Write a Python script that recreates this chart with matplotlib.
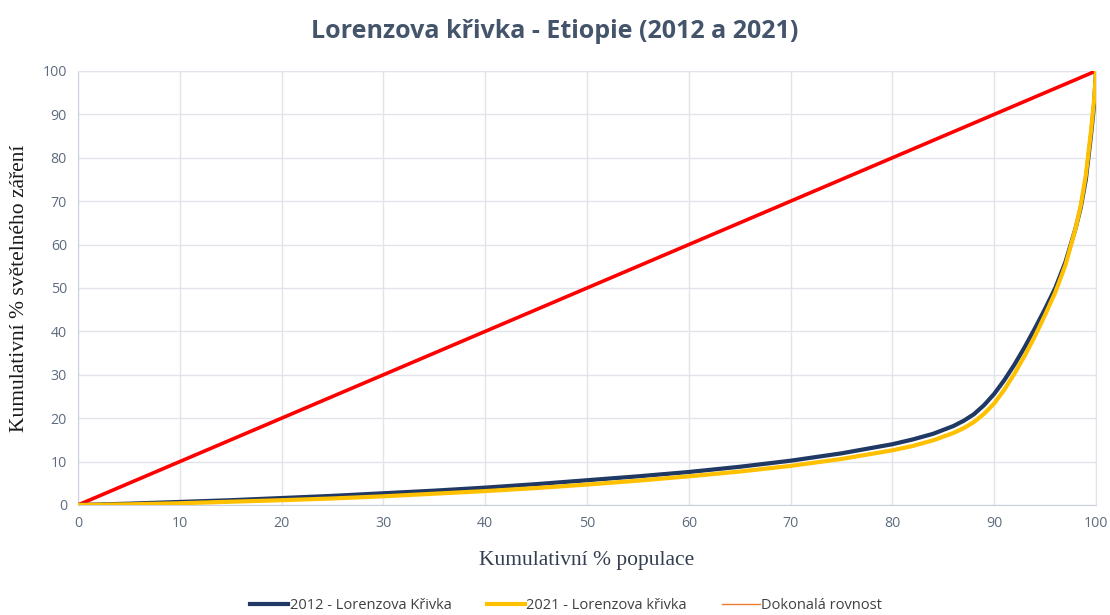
import matplotlib
matplotlib.use("Agg")
import matplotlib.pyplot as plt
from matplotlib.lines import Line2D

# kumulativní % populace
pop_2012 = [0, 5, 10, 15, 20, 25, 30, 35, 40, 45, 50, 55, 60, 65, 70, 75, 80, 82, 84, 86, 87, 88, 89,
            90, 91, 92, 93, 94, 95, 96, 97, 98, 98.5, 99, 99.5, 99.8, 100]
light_2012 = [0, 0.3, 0.7, 1.1, 1.6, 2.1, 2.7, 3.3, 4.0, 4.8, 5.7, 6.6, 7.6, 8.8, 10.2, 11.9, 14.0, 15.1, 16.4,
              18.2, 19.4, 20.9, 23.0, 25.6, 28.8, 32.4, 36.4, 40.7, 45.2, 50.0, 56.0, 63.8, 68.5, 75.0, 85.0, 92.0, 100]

pop_2021 = [0, 5, 10, 15, 20, 25, 30, 35, 40, 45, 50, 55, 60, 65, 70, 75, 80, 82, 84, 86, 87, 88, 89,
            90, 91, 92, 93, 94, 95, 96, 97, 98, 98.5, 99, 99.5, 99.8, 100]
light_2021 = [0, 0.15, 0.4, 0.75, 1.1, 1.5, 2.0, 2.6, 3.2, 3.9, 4.7, 5.6, 6.6, 7.7, 9.0, 10.6, 12.6, 13.6, 14.9,
              16.6, 17.7, 19.1, 21.0, 23.4, 26.6, 30.3, 34.4, 38.9, 43.8, 49.0, 55.3, 63.8, 69.0, 76.0, 86.0, 93.0, 100]

equality_x = [0, 100]
equality_y = [0, 100]

ticks = list(range(0, 101, 10))

fig = plt.figure(figsize=(11.1, 6.15), dpi=100)
ax = fig.add_axes([0.0703, 0.1789, 0.9171, 0.7057])

ax.plot(equality_x, equality_y, color="#FF0000", lw=2.6, solid_capstyle="round", zorder=3)
ax.plot(pop_2012, light_2012, color="#1F3864", lw=3.0, zorder=4)
ax.plot(pop_2021, light_2021, color="#FFC000", lw=3.0, zorder=5)

ax.set_xlim(0, 100)
ax.set_ylim(0, 100)
ax.set_xticks(ticks)
ax.set_yticks(ticks)
ax.grid(True, color="#E1E4EA", lw=1.0)
ax.set_axisbelow(True)
ax.tick_params(length=0, labelsize=10.2, labelcolor="#5E6B7E", pad=8)
for lab in ax.get_xticklabels() + ax.get_yticklabels():
    lab.set_family("Open Sans")
for side in ["top", "right"]:
    ax.spines[side].set_color("#E1E4EA")
for side in ["left", "bottom"]:
    ax.spines[side].set_color("#C9D1DE")

ax.set_xlabel("Kumulativní % populace", family="Liberation Serif", fontsize=15.5, color="#333F50", labelpad=14)
ax.set_ylabel("Kumulativní % světelného záření", family="Liberation Serif", fontsize=15.5, color="#1A1A1A", labelpad=10)

fig.text(0.5, 0.948, "Lorenzova křivka - Etiopie (2012 a 2021)", ha="center", va="center",
         family="Open Sans", fontweight="bold", fontsize=18, color="#44546A")

handles = [Line2D([], [], color="#1F3864", lw=3),
           Line2D([], [], color="#FFC000", lw=3),
           Line2D([], [], color="#ED7D31", lw=1)]
labels = ["2012 - Lorenzova Křivka", "2021 - Lorenzova křivka", "Dokonalá rovnost"]
fig.legend(handles, labels, loc="center", bbox_to_anchor=(0.51, 0.015), ncol=3, frameon=False,
           prop={"family": "Open Sans", "size": 10.5}, labelcolor="#404040",
           handlelength=2.6, handletextpad=0.1, columnspacing=2.4)

fig.savefig("out.png", dpi=100)
